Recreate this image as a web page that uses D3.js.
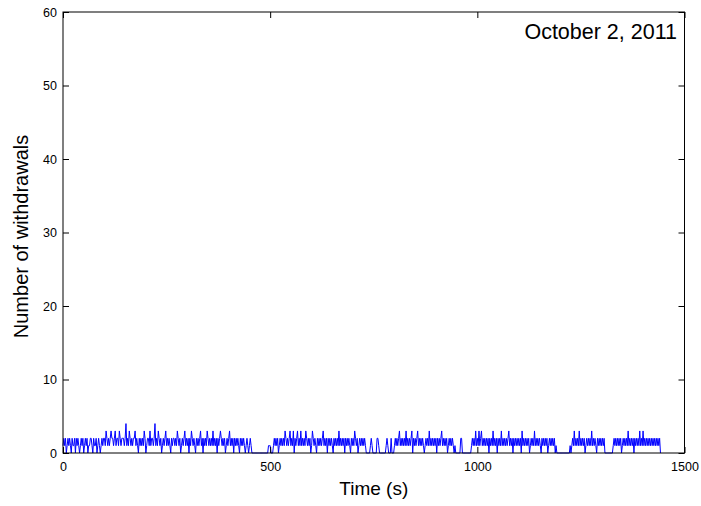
<!DOCTYPE html>
<html><head><meta charset="utf-8">
<script src="https://cdn.jsdelivr.net/npm/d3@7"></script>
<style>body{margin:0;background:#fff}svg{display:block}</style>
</head><body><svg id="c" width="701" height="506"></svg>
<script>
// ---- data (withdrawal counts sampled every 2 s) ----
const timeStep = 2;
const segmentA = "121201212102112021210121201212011221021120121012122132121232212312213212221241213212122312102121213201221312212412132120121231212102122121321201212312120213212102121231202121321212131212021232121201212312120212121021212101210121";
const segmentB = "00000000000000000000111000";
const segmentC = "12121201212121321212312130212312131212132121201321210212121231212021212102121213121212021212102121321201212121210";
const segmentD = "000012100000221000000001210002000";
const segmentE = "121212312121213121212302121231212121012121312121212021212312121201212121010";
const segmentF = "000002200000000000";
const segmentG = "12121312131231212121202121312120212131212121231212021212121203121212120121213121212102121212012121212010";
const segmentH = "00000000000000010";
const segmentI = "12131212131212120121212131212102121212120";
const segmentJ = "000000000";
const segmentK = "1212121212012121213121212021212131213121212121212121212120";
const xTicks = [0, 500, 1000, 1500];
const yTicks = [0, 10, 20, 30, 40, 50, 60];
const xLabel = "Time (s)";
const yLabel = "Number of withdrawals";
const annotation = "October 2, 2011";

const counts = [segmentA, segmentB, segmentC, segmentD, segmentE, segmentF,
  segmentG, segmentH, segmentI, segmentJ, segmentK].join("").split("").map(Number);
const series = counts.map((v, i) => ({t: i * timeStep, v}));

// ---- layout ----
const svg = d3.select("#c");
const L = 63, R = 684.5, T = 12, B = 453;
const x = d3.scaleLinear().domain([0, 1500]).range([L, R]);
const y = d3.scaleLinear().domain([0, 60]).range([B, T]);
const font = "Arial, 'Liberation Sans', Helvetica, sans-serif";
const tk = 6;

// data line
svg.append("path")
  .datum(series)
  .attr("fill", "none")
  .attr("stroke", "#0000ff")
  .attr("stroke-width", 1)
  .attr("d", d3.line().x(d => x(d.t)).y(d => y(d.v)));

// axes with inward ticks
const gB = svg.append("g").attr("transform", `translate(0,${B})`)
  .call(d3.axisBottom(x).tickValues(xTicks).tickSize(-tk).tickPadding(9).tickFormat(d3.format("d")));
const gT = svg.append("g").attr("transform", `translate(0,${T})`)
  .call(d3.axisTop(x).tickValues(xTicks).tickSize(-tk).tickFormat(""));
const gL = svg.append("g").attr("transform", `translate(${L},0)`)
  .call(d3.axisLeft(y).tickValues(yTicks).tickSize(-tk).tickPadding(6).tickFormat(d3.format("d")));
const gR = svg.append("g").attr("transform", `translate(${R},0)`)
  .call(d3.axisRight(y).tickValues(yTicks).tickSize(-tk).tickFormat(""));
[gB, gT, gL, gR].forEach(g => {
  g.select(".domain").remove();
  g.selectAll(".tick line").attr("stroke", "#000");
  g.selectAll(".tick text").attr("fill", "#000").style("font-family", font).style("font-size", "12.5px");
});

// box
svg.append("rect").attr("x", L).attr("y", T).attr("width", R - L).attr("height", B - T)
  .attr("fill", "none").attr("stroke", "#000").attr("stroke-width", 1);

// labels
svg.append("text").attr("x", (L + R) / 2).attr("y", 495).attr("text-anchor", "middle")
  .style("font-family", font).style("font-size", "19px").text(xLabel);
svg.append("text").attr("transform", `translate(28,${(T + B) / 2 + 4}) rotate(-90)`).attr("text-anchor", "middle")
  .style("font-family", font).style("font-size", "20px").text(yLabel);
svg.append("text").attr("x", 677).attr("y", 39).attr("text-anchor", "end")
  .style("font-family", font).style("font-size", "21.5px").text(annotation);
</script>
</body></html>
